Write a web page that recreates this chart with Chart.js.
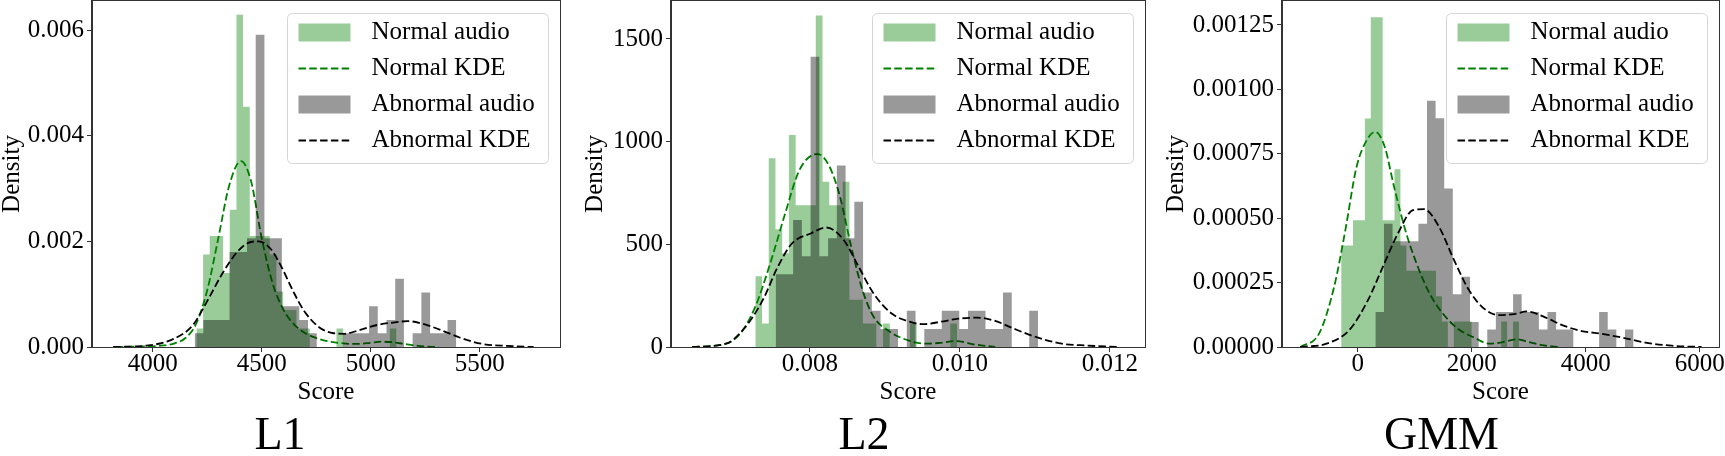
<!DOCTYPE html>
<html>
<head>
<meta charset="utf-8">
<script src="https://cdn.jsdelivr.net/npm/chart.js@4.4.1/dist/chart.umd.min.js"></script>
<style>
  html, body { margin: 0; padding: 0; background: #fff; }
  #wrap { position: relative; width: 1725px; height: 456px; overflow: hidden; }
  canvas { position: absolute; top: 0; }
</style>
</head>
<body>
<div id="wrap">
  <canvas id="l1" width="571" height="456" style="left:0px"></canvas>
  <canvas id="l2" width="575" height="456" style="left:583px"></canvas>
  <canvas id="gmm" width="561" height="456" style="left:1164px"></canvas>
</div>
<script>
// ---- L1 panel ----
const l1XTicks = [4000, 4500, 5000, 5500];
const l1YTicks = [0, 0.002, 0.004, 0.006];
const l1NormStart = 4200, l1NormWidth = 30.6;
const l1NormHist = [0.00035, 0.00175, 0.0021, 0.0021, 0.0014, 0.0026, 0.00629, 0.00455, 0.0021, 0.0021,
                    0.0021, 0.00175, 0.00105, 0.0007, 0.0007, 0.00035, 0.00035, 0, 0, 0,
                    0, 0.00035, 0, 0, 0, 0, 0, 0, 0, 0.00035];
const l1AbnStart = 4192, l1AbnWidth = 40;
const l1AbnHist = [0.00026, 0.00051, 0.00051, 0.00051, 0.0018, 0.0018, 0.00206, 0.00591, 0.00206, 0.00206,
                   0.00077, 0.00077, 0.00051, 0.00026, 0, 0, 0, 0.00026, 0.00026, 0.00026,
                   0.00077, 0.00026, 0.00051, 0.00129, 0, 0.00026, 0.00103, 0.00026, 0.00026, 0.00051];
const l1NormKdeX = [3830, 4050, 4100, 4150, 4200, 4250, 4300, 4350, 4404, 4450, 4500, 4550, 4600, 4650,
                    4700, 4750, 4800, 4850, 4900, 4950, 5000, 5050, 5100, 5150, 5200, 5250, 5300];
const l1NormKdeY = [0, 0.00003, 0.00007, 0.00017, 0.00045, 0.00108, 0.00205, 0.00305, 0.00352, 0.00315, 0.00205, 0.0012, 0.0007, 0.00042,
                    0.00026, 0.00017, 0.00011, 0.00008, 0.00006, 0.00006, 0.00008, 0.0001, 0.00009, 0.00006, 0.00003, 0.00001, 0];
const l1AbnKdeX = [3818, 3980, 4099, 4183, 4251, 4319, 4387, 4438, 4486, 4540, 4591, 4642, 4693, 4761,
                   4829, 4880, 4948, 5033, 5118, 5169, 5237, 5322, 5407, 5509, 5628, 5747];
const l1AbnKdeY = [0, 0.00003, 0.00016, 0.00041, 0.00088, 0.00139, 0.0018, 0.00197, 0.002, 0.00186, 0.00151, 0.00107, 0.00069, 0.00038,
                   0.00026, 0.00025, 0.00032, 0.00042, 0.00047, 0.00049, 0.00044, 0.00032, 0.00018, 0.00006, 0.00002, 0];

// ---- L2 panel ----
const l2XTicks = [0.008, 0.010, 0.012];
const l2YTicks = [0, 500, 1000, 1500];
const l2NormStart = 0.007271, l2NormWidth = 0.00008965;
const l2NormHist = [345, 114, 919, 573, 456, 1033, 690, 690, 690, 1614,
                    805, 690, 690, 805, 230, 230, 114, 114, 0, 114,
                    0, 0, 0, 114, 0, 0, 0, 0, 0, 114];
const l2AbnStart = 0.007542, l2AbnWidth = 0.0001166;
const l2AbnHist = [354, 354, 619, 442, 1414, 442, 530, 884, 530, 707,
                   265, 177, 88, 88, 0, 177, 0, 88, 88, 177,
                   177, 88, 177, 177, 88, 88, 265, 0, 0, 177];
const l2NormKdeX = [0.00643, 0.00688, 0.00707, 0.00727, 0.00747, 0.00767, 0.00786, 0.0081, 0.00826, 0.0084,
                    0.00855, 0.0087, 0.00885, 0.00904, 0.00924, 0.00954, 0.00973, 0.00996, 0.01018, 0.01047];
const l2NormKdeY = [0, 16, 65, 195, 407, 651, 862, 940, 879, 732,
                    488, 277, 146, 81, 41, 16, 20, 29, 13, 0];
const l2AbnKdeX = [0.00643, 0.00688, 0.00712, 0.00737, 0.00757, 0.00776, 0.00801, 0.00822, 0.00845, 0.00865,
                   0.00885, 0.00909, 0.00934, 0.00951, 0.00973, 0.00998, 0.01023, 0.01047, 0.01072, 0.01101,
                   0.01136, 0.0117, 0.0121];
const l2AbnKdeY = [0, 16, 89, 228, 390, 504, 553, 582, 521, 390,
                   260, 163, 122, 111, 122, 138, 143, 127, 89, 49,
                   16, 7, 0];

// ---- GMM panel ----
const gmmXTicks = [0, 2000, 4000, 6000];
const gmmYTicks = [0, 0.00025, 0.0005, 0.00075, 0.001, 0.00125];
const gmmNormStart = -290, gmmNormWidth = 104;
const gmmNormHist = [3.94e-4, 3.94e-4, 4.92e-4, 4.92e-4, 8.87e-4, 12.8e-4, 12.8e-4, 4.92e-4, 4.92e-4, 6.9e-4,
                     3.94e-4, 2.96e-4, 2.96e-4, 2.96e-4, 2.96e-4, 2.96e-4, 1.97e-4, 0.99e-4, 0, 0.99e-4,
                     0.99e-4, 0.99e-4, 0, 0, 0, 0, 0, 0.99e-4, 0, 0.99e-4];
const gmmAbnStart = 310, gmmAbnWidth = 151;
const gmmAbnHist = [1.36e-4, 4.78e-4, 4.1e-4, 4.1e-4, 4.1e-4, 4.78e-4, 9.56e-4, 8.88e-4, 6.15e-4, 2.05e-4,
                    2.73e-4, 0.97e-4, 0, 0.68e-4, 1.36e-4, 1.36e-4, 2.05e-4, 1.36e-4, 1.36e-4, 0.68e-4,
                    1.36e-4, 0.68e-4, 0.68e-4, 0, 0, 0, 1.36e-4, 0.68e-4, 0, 0.68e-4];
const gmmNormKdeX = [-1007, -678, -414, -217, -20, 178, 309, 474, 638, 836, 1033, 1263, 1493, 1757,
                     2020, 2316, 2546, 2776, 3007, 3270, 3533];
const gmmNormKdeY = [0, 0.52e-4, 2.33e-4, 4.53e-4, 6.99e-4, 8.1e-4, 8.35e-4, 7.77e-4, 6.22e-4, 4.53e-4, 3.24e-4, 2.07e-4, 1.3e-4, 0.71e-4,
                     0.39e-4, 0.13e-4, 0.19e-4, 0.3e-4, 0.19e-4, 0.06e-4, 0];
const gmmAbnKdeX = [-1007, -546, -151, 178, 441, 704, 967, 1164, 1428, 1691, 1954, 2217, 2480, 2743,
                    2974, 3270, 3599, 3928, 4257, 4651, 5046, 5507, 6033];
const gmmAbnKdeY = [0, 0.13e-4, 0.65e-4, 1.81e-4, 3.11e-4, 4.4e-4, 5.31e-4, 5.35e-4, 4.66e-4, 3.37e-4, 2.2e-4, 1.49e-4, 1.24e-4, 1.28e-4,
                    1.38e-4, 1.17e-4, 0.84e-4, 0.62e-4, 0.52e-4, 0.36e-4, 0.17e-4, 0.05e-4, 0];

const FONT = "'Liberation Serif', 'DejaVu Serif', serif";
const GREEN_FILL = 'rgba(0,128,0,0.4)';
const GRAY_FILL = 'rgba(0,0,0,0.4)';
const DASH = [7.5, 3.3];

function histPoints(start, width, heights) {
  const pts = [{x: start, y: 0}];
  heights.forEach((h, i) => {
    pts.push({x: start + i * width, y: h});
    pts.push({x: start + (i + 1) * width, y: h});
  });
  pts.push({x: start + heights.length * width, y: 0});
  return pts;
}
function curvePoints(xs, ys) {
  return xs.map((x, i) => ({x: x, y: ys[i]}));
}

// box frame round the plot area (all four spines)
const frame = {
  id: 'frame',
  afterDatasetsDraw(chart) {
    const {ctx, chartArea: a} = chart;
    ctx.save();
    ctx.strokeStyle = '#333';
    ctx.lineWidth = 1;
    ctx.strokeRect(Math.round(a.left) - 0.5, Math.round(a.top) - 0.5,
                   Math.round(a.right - a.left) + 1, Math.round(a.bottom - a.top) + 1);
    ctx.restore();
  }
};

// matplotlib style legend box in the upper right
const boxLegend = {
  id: 'boxLegend',
  afterDraw(chart) {
    const {ctx, chartArea: a} = chart;
    const w = 261, h = 150;
    const x0 = Math.round(a.right - 12.5 - w) + 0.5, y0 = Math.round(a.top + 12) + 0.5;
    ctx.save();
    ctx.beginPath();
    ctx.roundRect(x0, y0, w, h, 5);
    ctx.fillStyle = 'rgba(255,255,255,0.8)';
    ctx.fill();
    ctx.strokeStyle = '#d5d5d5';
    ctx.lineWidth = 1;
    ctx.stroke();
    ctx.font = '25px ' + FONT;
    ctx.textBaseline = 'middle';
    chart.data.datasets.forEach((ds, i) => {
      const cy = y0 + 19 + i * 36;
      if (ds.fill) {
        ctx.fillStyle = ds.backgroundColor;
        ctx.fillRect(x0 + 11, cy - 9, 52, 18);
      } else {
        ctx.strokeStyle = ds.borderColor;
        ctx.lineWidth = ds.borderWidth;
        ctx.setLineDash(ds.borderDash);
        ctx.beginPath();
        ctx.moveTo(x0 + 11, cy);
        ctx.lineTo(x0 + 63, cy);
        ctx.stroke();
        ctx.setLineDash([]);
      }
      ctx.fillStyle = '#000';
      ctx.fillText(ds.label, x0 + 84, cy);
    });
    ctx.restore();
  }
};

function axisFont(size) {
  return {family: FONT, size: size, weight: 'normal', lineHeight: 1};
}

function makePanel(id, p) {
  new Chart(document.getElementById(id), {
    type: 'line',
    data: {
      datasets: [
        { label: 'Normal audio', data: histPoints(p.normStart, p.normWidth, p.normHist),
          fill: 'origin', backgroundColor: GREEN_FILL, borderColor: 'rgba(0,0,0,0)', borderWidth: 0,
          pointRadius: 0, tension: 0, order: 4 },
        { label: 'Normal KDE', data: curvePoints(p.normKdeX, p.normKdeY),
          fill: false, borderColor: '#008000', borderWidth: 1.8, borderDash: DASH,
          pointRadius: 0, cubicInterpolationMode: 'monotone', order: 3 },
        { label: 'Abnormal audio', data: histPoints(p.abnStart, p.abnWidth, p.abnHist),
          fill: 'origin', backgroundColor: GRAY_FILL, borderColor: 'rgba(0,0,0,0)', borderWidth: 0,
          pointRadius: 0, tension: 0, order: 2 },
        { label: 'Abnormal KDE', data: curvePoints(p.abnKdeX, p.abnKdeY),
          fill: false, borderColor: '#000000', borderWidth: 1.8, borderDash: DASH,
          pointRadius: 0, cubicInterpolationMode: 'monotone', order: 1 }
      ]
    },
    options: {
      responsive: false,
      devicePixelRatio: 1,
      animation: false,
      events: [],
      layout: { padding: { top: 1, left: 0, right: p.padRight, bottom: 0 } },
      plugins: {
        legend: { display: false },
        tooltip: { enabled: false },
        title: { display: true, text: p.caption, position: 'bottom', color: '#000',
                 font: {family: FONT, size: 46, weight: 'normal', lineHeight: 0.85}, padding: 0 }
      },
      scales: {
        x: {
          type: 'linear', min: p.xMin, max: p.xMax,
          afterBuildTicks: s => { s.ticks = p.xTicks.map(v => ({value: v})); },
          afterFit: s => { s.height = 69.9; s.paddingLeft = 0; s.paddingRight = 0; },
          ticks: { callback: p.xFmt, color: '#000', font: axisFont(25), padding: 0, maxRotation: 0, autoSkip: false },
          grid: { display: true, drawOnChartArea: false, drawTicks: true, tickLength: 5, color: '#333' },
          border: { display: true, color: '#333', width: 1 },
          title: { display: true, text: 'Score', color: '#000', font: axisFont(25), padding: {top: 0, bottom: 12} }
        },
        y: {
          type: 'linear', min: 0, max: p.yMax,
          afterBuildTicks: s => { s.ticks = p.yTicks.map(v => ({value: v})); },
          afterFit: s => { s.width = p.yWidth; s.paddingTop = 0; s.paddingBottom = 0; },
          ticks: { callback: p.yFmt, color: '#000', font: axisFont(25), padding: 3, autoSkip: false },
          grid: { display: true, drawOnChartArea: false, drawTicks: true, tickLength: 5, color: '#333' },
          border: { display: true, color: '#333', width: 1 },
          title: { display: true, text: 'Density', color: '#000', font: axisFont(25), padding: 0 }
        }
      }
    },
    plugins: [frame, boxLegend]
  });
}

makePanel('l1', {
  caption: 'L1', xMin: 3721, xMax: 5868, yMax: 0.00655, yWidth: 92, padRight: 11,
  xTicks: l1XTicks, yTicks: l1YTicks,
  xFmt: v => String(v), yFmt: v => v.toFixed(3),
  normStart: l1NormStart, normWidth: l1NormWidth, normHist: l1NormHist,
  abnStart: l1AbnStart, abnWidth: l1AbnWidth, abnHist: l1AbnHist,
  normKdeX: l1NormKdeX, normKdeY: l1NormKdeY, abnKdeX: l1AbnKdeX, abnKdeY: l1AbnKdeY
});
makePanel('l2', {
  caption: 'L2', xMin: 0.006147, xMax: 0.012467, yMax: 1685, yWidth: 88, padRight: 13,
  xTicks: l2XTicks, yTicks: l2YTicks,
  xFmt: v => v.toFixed(3), yFmt: v => String(v),
  normStart: l2NormStart, normWidth: l2NormWidth, normHist: l2NormHist,
  abnStart: l2AbnStart, abnWidth: l2AbnWidth, abnHist: l2AbnHist,
  normKdeX: l2NormKdeX, normKdeY: l2NormKdeY, abnKdeX: l2AbnKdeX, abnKdeY: l2AbnKdeY
});
makePanel('gmm', {
  caption: 'GMM', xMin: -1328, xMax: 6339, yMax: 0.001343, yWidth: 118, padRight: 6,
  xTicks: gmmXTicks, yTicks: gmmYTicks,
  xFmt: v => String(v), yFmt: v => v.toFixed(5),
  normStart: gmmNormStart, normWidth: gmmNormWidth, normHist: gmmNormHist,
  abnStart: gmmAbnStart, abnWidth: gmmAbnWidth, abnHist: gmmAbnHist,
  normKdeX: gmmNormKdeX, normKdeY: gmmNormKdeY, abnKdeX: gmmAbnKdeX, abnKdeY: gmmAbnKdeY
});
</script>
</body>
</html>
